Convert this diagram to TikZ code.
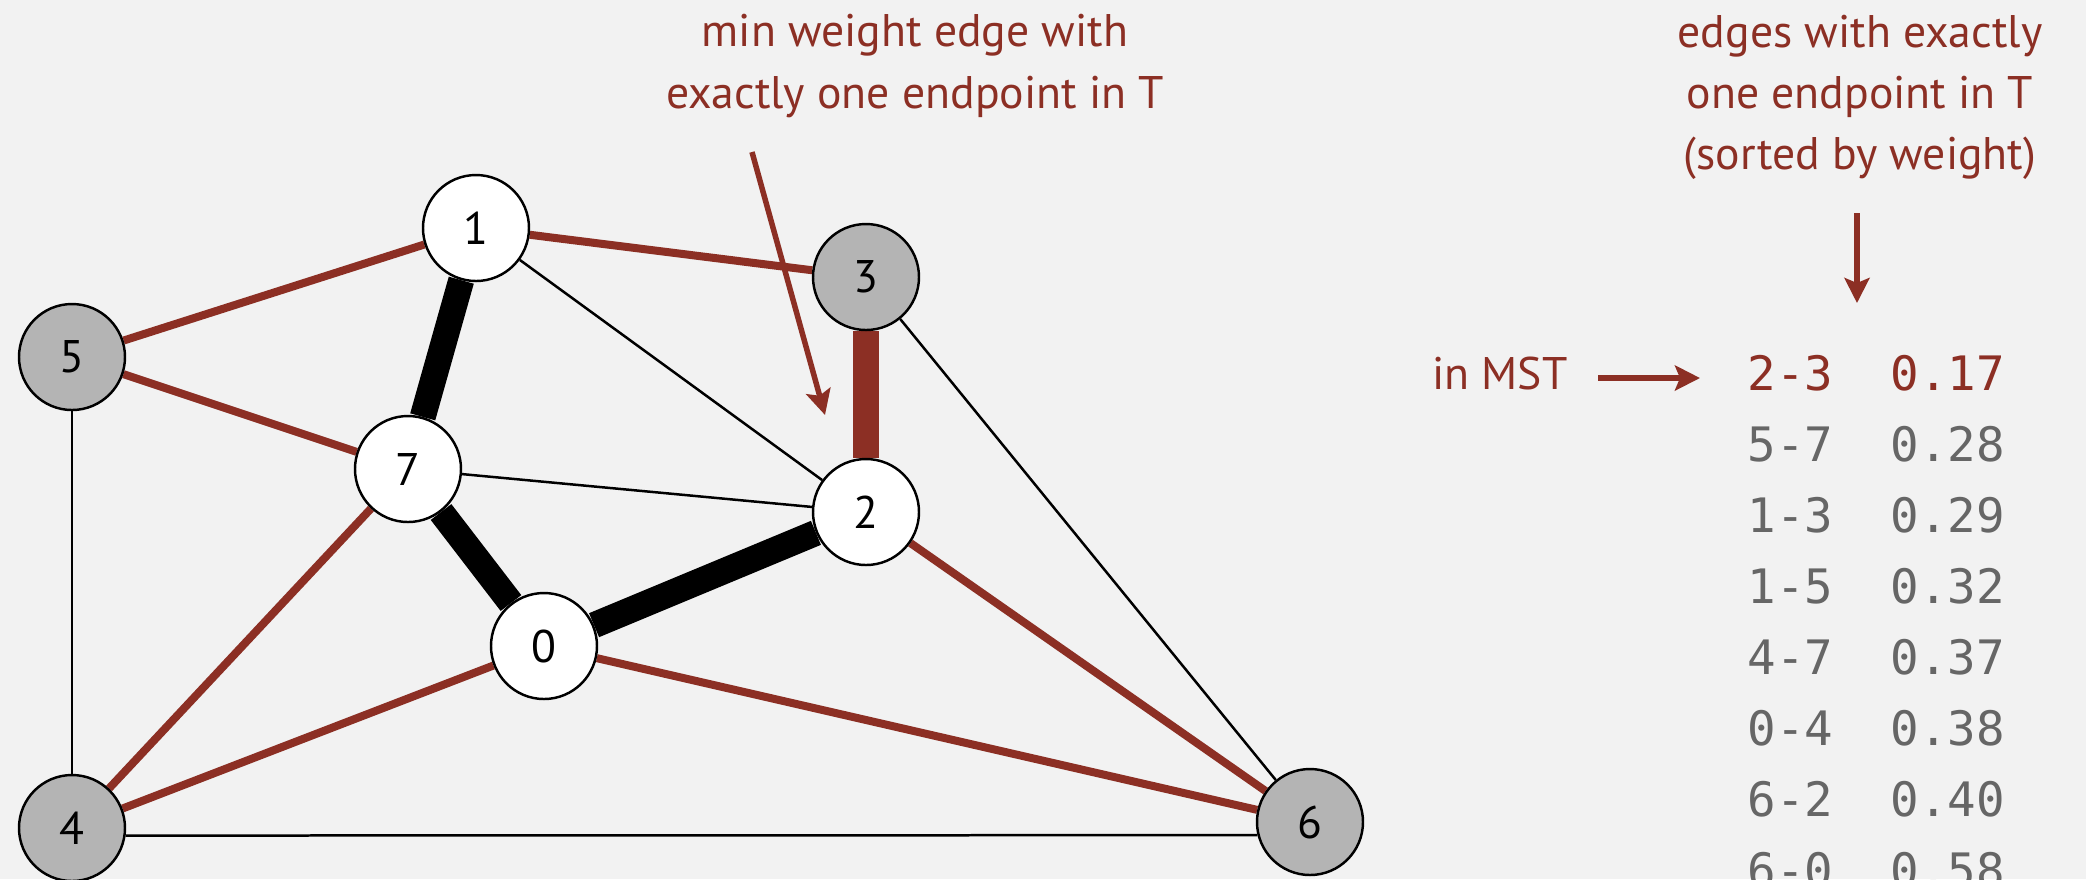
\documentclass[tikz,border=0pt]{standalone}
\usepackage{fontspec}
\setmainfont{PT Sans}
\setmonofont{DejaVu Sans Mono}
\usetikzlibrary{arrows.meta}
\definecolor{mstred}{RGB}{140,47,36}
\definecolor{bggray}{RGB}{242,242,242}
\definecolor{vgray}{RGB}{180,180,180}
\definecolor{tgray}{RGB}{102,102,102}
\pgfdeclarelayer{edges}
\pgfsetlayers{edges,main}

\begin{document}
\begin{tikzpicture}[font=\fontsize{13}{17.4}\selectfont,
	vtx/.style={draw, circle, line width=0.7pt, minimum size=1.06cm, inner sep=0pt},
	intree/.style={vtx, fill=white},
	outtree/.style={vtx, fill=vgray},
	mstedge/.style={line width=0.26cm},
	cutedge/.style={mstred, line width=0.08cm},
	thinedge/.style={line width=0.025cm},
	note/.style={mstred, align=center},
	ptr/.style={mstred, line width=0.055cm, -{Stealth[length=0.25cm, width=0.25cm, inset=0.05cm]}},
	wt/.style={tgray, font=\ttfamily\fontsize{13.5}{16}\selectfont, anchor=base west, inner sep=0pt}]
	\useasboundingbox (0,0) rectangle (20.86,-8.79);
	
	% vertices (gray = not yet in T)
	\node[intree] (v1) at (4.76,-2.28) {1};
	\node[outtree] (v3) at (8.66,-2.77) {3};
	\node[outtree] (v5) at (0.72,-3.57) {5};
	\node[intree] (v7) at (4.08,-4.69) {7};
	\node[intree] (v2) at (8.66,-5.12) {2};
	\node[intree] (v0) at (5.44,-6.46) {0};
	\node[outtree] (v4) at (0.72,-8.28) {4};
	\node[outtree] (v6) at (13.10,-8.22) {6};
	
	\begin{pgfonlayer}{edges}
		\fill[bggray] (0,0) rectangle (20.86,-8.79);
		\draw[thinedge] (v1) -- (v2);
		\draw[thinedge] (v7) -- (v2);
		\draw[thinedge] (v5) -- (v4);
		\draw[thinedge] (v4.-8) -- (v6.194);
		\draw[thinedge] (v3) -- (v6);
		\draw[cutedge] (v1) -- (v5);
		\draw[cutedge] (v1) -- (v3);
		\draw[cutedge] (v5) -- (v7);
		\draw[cutedge] (v7) -- (v4);
		\draw[cutedge] (v4) -- (v0);
		\draw[cutedge] (v0) -- (v6);
		\draw[cutedge] (v2) -- (v6);
		\draw[mstedge] (v1) -- (v7);
		\draw[mstedge] (v7) -- (v0);
		\draw[mstedge] (v0) -- (v2);
		\draw[mstedge, mstred] (v3) -- (v2);
	\end{pgfonlayer}
	
	% annotations
	\node[note] (minlbl) at (9.15,-0.66) {min weight edge with\\exactly one endpoint in T};
	\node[note] (sortlbl) at (18.60,-0.97) {edges with exactly\\one endpoint in T\\(sorted by weight)};
	\node[note] (inmst) at (15.00,-3.73) {in MST};
	\coordinate (ptrtail) at (7.52,-1.52);
	\coordinate (ptrtip) at (8.25,-4.15);
	\coordinate (sorttail) at (18.57,-2.13);
	\coordinate (sorttip) at (18.57,-3.03);
	\coordinate (msttail) at (15.98,-3.78);
	\coordinate (msttip) at (17.00,-3.78);
	\draw[ptr] (ptrtail) -- (ptrtip);
	\draw[ptr] (sorttail) -- (sorttip);
	\draw[ptr] (msttail) -- (msttip);
	
	% priority queue contents
	\node[wt, mstred] (pq0) at (17.47,-3.90) {2-3\ \ 0.17};
	\node[wt] (pq1) at (17.47,-4.61) {5-7\ \ 0.28};
	\node[wt] (pq2) at (17.47,-5.32) {1-3\ \ 0.29};
	\node[wt] (pq3) at (17.47,-6.03) {1-5\ \ 0.32};
	\node[wt] (pq4) at (17.47,-6.74) {4-7\ \ 0.37};
	\node[wt] (pq5) at (17.47,-7.45) {0-4\ \ 0.38};
	\node[wt] (pq6) at (17.47,-8.16) {6-2\ \ 0.40};
	\node[wt] (pq7) at (17.47,-8.87) {6-0\ \ 0.58};
\end{tikzpicture}
\end{document}
